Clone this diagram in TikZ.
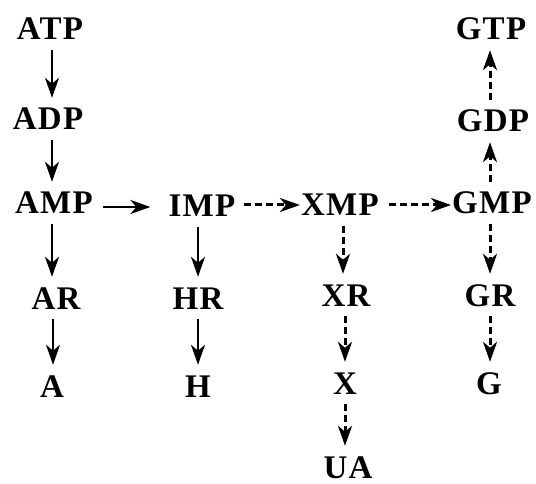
\documentclass[tikz,border=0pt]{standalone}
\usepackage{fontspec}
\setmainfont{Liberation Serif}[LetterSpace=4]
\usetikzlibrary{arrows.meta}
\begin{document}
\begin{tikzpicture}[x=1pt,y=-1pt,
  lbl/.style={font=\fontsize{33}{36}\selectfont\bfseries, inner sep=0pt, text height=22pt, text depth=0pt},
  tip/.style={-{Stealth[length=20pt,width=14pt,inset=6pt]}},
  solidarr/.style={tip, line width=2.4pt, shorten <=10pt, shorten >=10pt},
  dasharr/.style={tip, line width=3pt, dash pattern=on 7pt off 4pt, shorten <=10pt, shorten >=10pt}]
\useasboundingbox (0,0) rectangle (536,484);
% column A
\node[lbl] (atp) at (50,29) {ATP};
\node[lbl] (adp) at (48,119) {ADP};
\node[lbl] (amp) at (54,203) {AMP};
\node[lbl] (ar) at (56,298) {AR};
\node[lbl] (a) at (52,386) {A};
% column I
\node[lbl] (imp) at (202,206) {IMP};
\node[lbl] (hr) at (198,298) {HR};
\node[lbl] (h) at (198,386) {H};
% column X
\node[lbl] (xmp) at (340,205) {XMP};
\node[lbl] (xr) at (346,295) {XR};
\node[lbl] (x) at (345,383) {X};
\node[lbl] (ua) at (348,467) {UA};
% column G
\node[lbl] (gmp) at (492,203) {GMP};
\node[lbl] (gdp) at (493,121) {GDP};
\node[lbl] (gtp) at (491,29) {GTP};
\node[lbl] (gr) at (490,295) {GR};
\node[lbl] (g) at (489,383) {G};
% arrows
\draw[solidarr] (atp.south -| 52,0) -- (adp.north -| 52,0);
\draw[solidarr] (adp.south -| 52,0) -- (amp.north -| 52,0);
\draw[solidarr] (amp.south -| 52,0) -- (ar.north -| 52,0);
\draw[solidarr] (ar.south -| 53,0) -- (a.north -| 53,0);
\draw[solidarr, shorten <=10pt, shorten >=18pt] (amp.east |- 0,207) -- (imp.west |- 0,207);
\draw[solidarr] (imp.south -| 198,0) -- (hr.north -| 198,0);
\draw[solidarr] (hr.south -| 198,0) -- (h.north -| 198,0);
\draw[dasharr, shorten <=8pt, shorten >=1pt] (imp.east |- 0,205) -- (xmp.west |- 0,205);
\draw[dasharr, shorten <=10pt, shorten >=1pt] (xmp.east |- 0,205) -- (gmp.west |- 0,205);
\draw[dasharr] (xmp.south -| 343,0) -- (xr.north -| 343,0);
\draw[dasharr] (xr.south -| 345,0) -- (x.north -| 345,0);
\draw[dasharr] (x.south -| 345,0) -- (ua.north -| 345,0);
\draw[dasharr] (gmp.south -| 490,0) -- (gr.north -| 490,0);
\draw[dasharr] (gr.south -| 490,0) -- (g.north -| 490,0);
\draw[dasharr] (gmp.north -| 490,0) -- (gdp.south -| 490,0);
\draw[dasharr] (gdp.north -| 490,0) -- (gtp.south -| 490,0);
\end{tikzpicture}
\end{document}
